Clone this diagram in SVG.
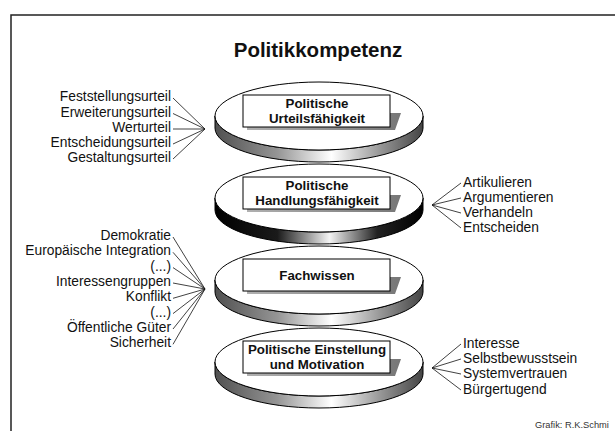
<svg xmlns="http://www.w3.org/2000/svg" width="615" height="431" viewBox="0 0 615 431">
<defs>
<linearGradient id="sideLight" x1="0" y1="0" x2="1" y2="0">
<stop offset="0" stop-color="#505050"/>
<stop offset="0.3" stop-color="#959595"/>
<stop offset="0.56" stop-color="#ffffff"/>
<stop offset="0.8" stop-color="#959595"/>
<stop offset="1" stop-color="#444444"/>
</linearGradient>
<linearGradient id="sideDark" x1="0" y1="0" x2="1" y2="0">
<stop offset="0" stop-color="#000000"/>
<stop offset="0.3" stop-color="#1a1a1a"/>
<stop offset="0.55" stop-color="#f4f4f4"/>
<stop offset="0.78" stop-color="#222222"/>
<stop offset="1" stop-color="#000000"/>
</linearGradient>
<linearGradient id="shadow" x1="0" y1="0" x2="1" y2="0">
<stop offset="0" stop-color="#b0b0b0"/>
<stop offset="1" stop-color="#777777"/>
</linearGradient>
</defs>
<style>
.frame{fill:none;stroke:#222;stroke-width:1.5}
.title{font-family:"Liberation Sans",Arial,sans-serif;font-weight:bold;font-size:20.5px;fill:#111;text-anchor:middle}
.side{stroke:#000;stroke-width:1}
.top{fill:#fff;stroke:#000;stroke-width:1}
.box{fill:#fff;stroke:#000;stroke-width:1}
.shd{fill:url(#shadow)}
.lbl{font-family:"Liberation Sans",Arial,sans-serif;font-weight:bold;font-size:13.3px;fill:#111;text-anchor:middle}
.itemL{font-family:"Liberation Sans",Arial,sans-serif;font-size:13.8px;fill:#111;text-anchor:end}
.itemR{font-family:"Liberation Sans",Arial,sans-serif;font-size:13.8px;fill:#111;text-anchor:start}
.con{fill:none;stroke:#111;stroke-width:0.8}
.credit{font-family:"Liberation Sans",Arial,sans-serif;font-size:9.3px;fill:#333}
</style>
<rect class="frame" x="11" y="15" width="700" height="500"/>
<text class="title" x="318" y="57">Politikkompetenz</text>

<g id="disk4" transform="translate(0,246)">
<path class="side" fill="url(#sideLight)" d="M215,116 L215,128 A104,34 0 0 0 423,128 L423,116 A104,34 0 0 1 215,116 Z"/>
<ellipse class="top" cx="319" cy="116" rx="104" ry="34"/>
<polygon class="shd" points="247,127 390,127 390,113 401,113 395,130 247,130"/>
<rect class="box" x="243" y="95" width="147" height="32"/>
<text class="lbl" x="317" y="108">Politische Einstellung</text>
<text class="lbl" x="317" y="123">und Motivation</text>
</g>

<g id="disk3" transform="translate(0,164)">
<path class="side" fill="url(#sideLight)" d="M215,116 L215,128 A104,34 0 0 0 423,128 L423,116 A104,34 0 0 1 215,116 Z"/>
<ellipse class="top" cx="319" cy="116" rx="104" ry="34"/>
<polygon class="shd" points="247,127 390,127 390,113 401,113 395,130 247,130"/>
<rect class="box" x="243" y="95" width="147" height="32"/>
<text class="lbl" x="317" y="116">Fachwissen</text>
</g>

<g id="disk2" transform="translate(0,82)">
<path class="side" fill="url(#sideDark)" d="M215,116 L215,128 A104,34 0 0 0 423,128 L423,116 A104,34 0 0 1 215,116 Z"/>
<ellipse class="top" cx="319" cy="116" rx="104" ry="34"/>
<polygon class="shd" points="247,127 390,127 390,113 401,113 395,130 247,130"/>
<rect class="box" x="243" y="95" width="147" height="32"/>
<text class="lbl" x="317" y="108">Politische</text>
<text class="lbl" x="317" y="123">Handlungsfähigkeit</text>
</g>

<g id="disk1">
<path class="side" fill="url(#sideLight)" d="M215,116 L215,128 A104,34 0 0 0 423,128 L423,116 A104,34 0 0 1 215,116 Z"/>
<ellipse class="top" cx="319" cy="116" rx="104" ry="34"/>
<polygon class="shd" points="247,127 390,127 390,113 401,113 395,130 247,130"/>
<rect class="box" x="243" y="95" width="147" height="32"/>
<text class="lbl" x="317" y="108">Politische</text>
<text class="lbl" x="317" y="123">Urteilsfähigkeit</text>
</g>

<g id="list-urteil">
<text class="itemL" x="171" y="101">Feststellungsurteil</text>
<text class="itemL" x="171" y="116.5">Erweiterungsurteil</text>
<text class="itemL" x="171" y="132">Werturteil</text>
<text class="itemL" x="171" y="147">Entscheidungsurteil</text>
<text class="itemL" x="171" y="162">Gestaltungsurteil</text>
</g>

<g id="list-wissen">
<text class="itemL" x="171" y="240">Demokratie</text>
<text class="itemL" x="171" y="255.3">Europäische Integration</text>
<text class="itemL" x="171" y="270.6">(...)</text>
<text class="itemL" x="171" y="286">Interessengruppen</text>
<text class="itemL" x="171" y="301.3">Konflikt</text>
<text class="itemL" x="171" y="316.6">(...)</text>
<text class="itemL" x="171" y="332">Öffentliche Güter</text>
<text class="itemL" x="171" y="347.3">Sicherheit</text>
</g>

<g id="list-handlung">
<text class="itemR" x="463" y="186.7">Artikulieren</text>
<text class="itemR" x="463" y="201.7">Argumentieren</text>
<text class="itemR" x="463" y="216.7">Verhandeln</text>
<text class="itemR" x="463" y="232">Entscheiden</text>
</g>

<g id="list-einstellung">
<text class="itemR" x="463" y="348">Interesse</text>
<text class="itemR" x="463" y="363">Selbstbewusstsein</text>
<text class="itemR" x="463" y="378">Systemvertrauen</text>
<text class="itemR" x="463" y="394">Bürgertugend</text>
</g>

<g id="connectors">
<path class="con" d="M173,98 L205,129 M173,113.5 L205,129 M173,129 L205,129 M173,144 L205,129 M173,159 L205,129"/>
<path class="con" d="M173,237 L205,289 M173,252.3 L205,289 M173,267.6 L205,289 M173,283 L205,289 M173,298.3 L205,289 M173,313.6 L205,289 M173,329 L205,289 M173,344.3 L205,289"/>
<path class="con" d="M461,183 L432,205 M461,198 L432,205 M461,213 L432,205 M461,228 L432,205"/>
<path class="con" d="M461,344 L432,368 M461,359 L432,368 M461,374 L432,368 M461,390 L432,368"/>
</g>

<text class="credit" x="535" y="428">Grafik: R.K.Schmi</text>
</svg>
